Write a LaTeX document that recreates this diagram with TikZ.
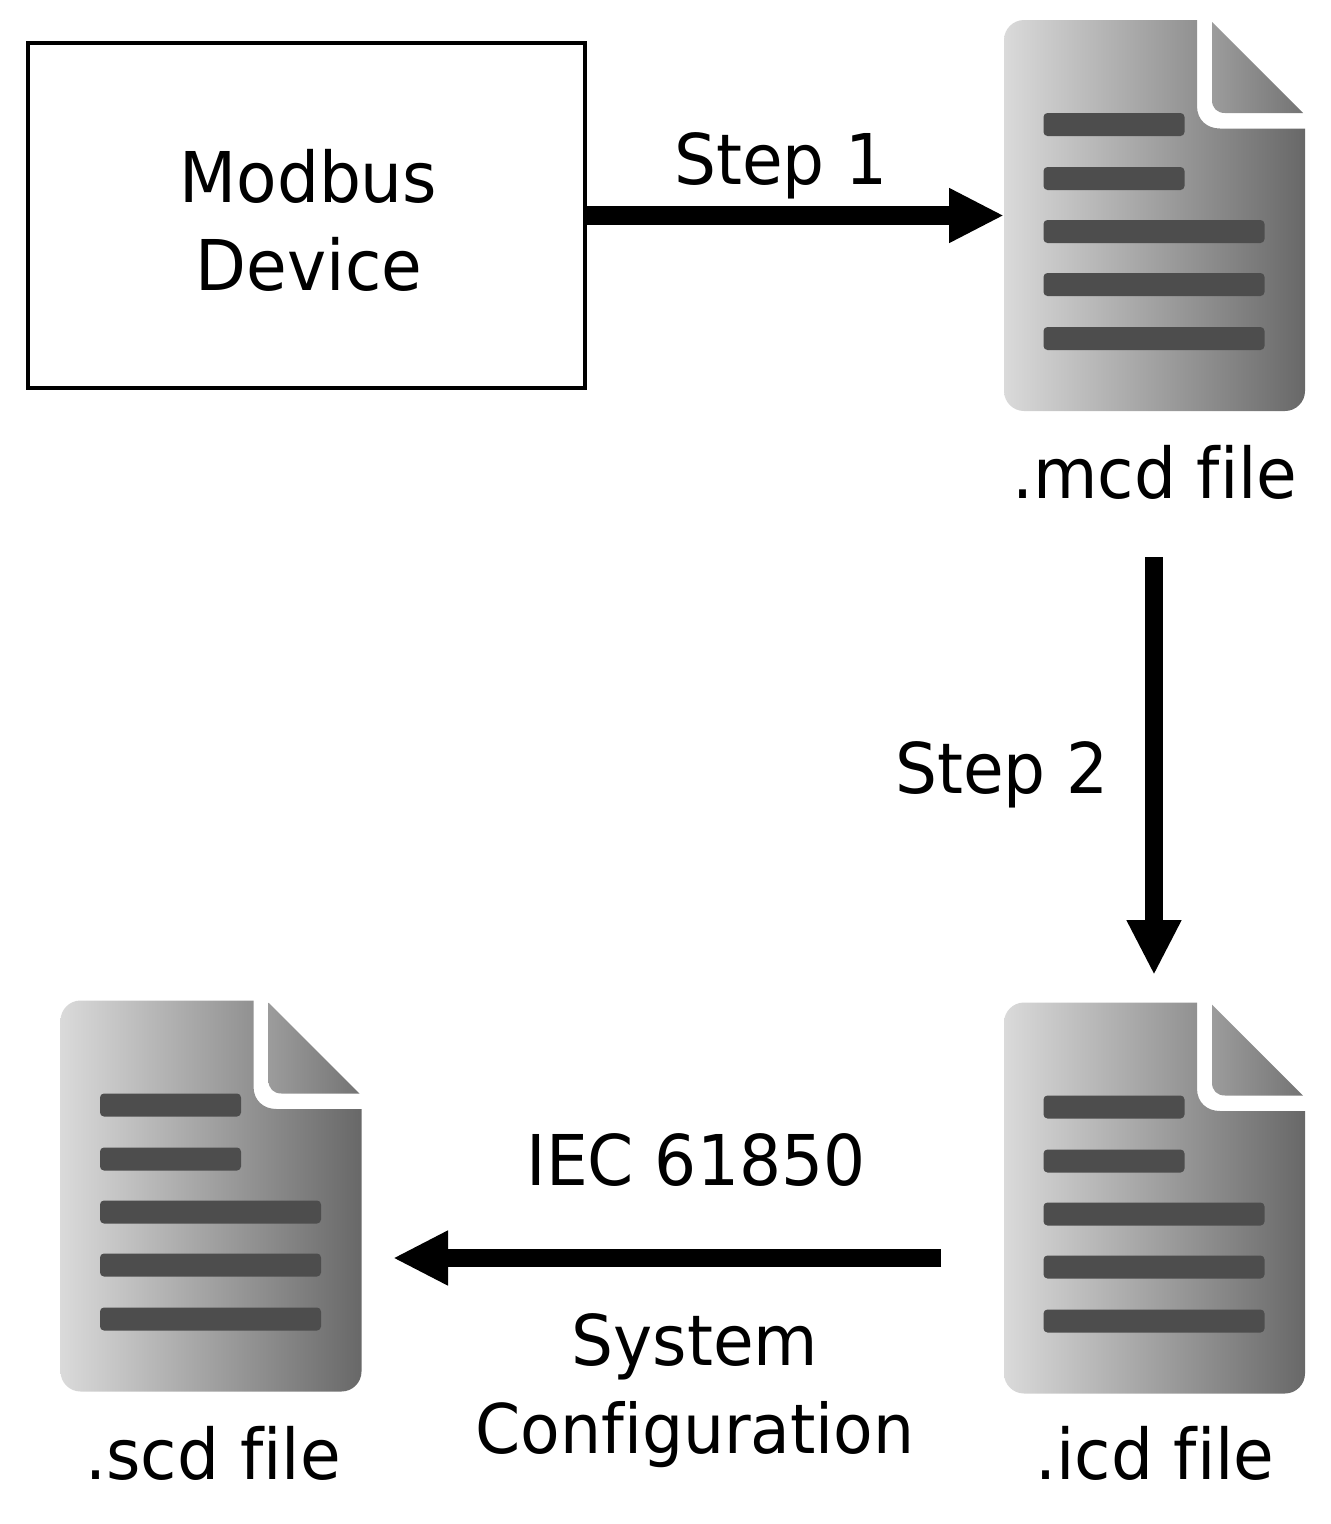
\documentclass[tikz,border=0pt]{standalone}
\usepackage{fontspec}
\setmainfont[FakeStretch=1.05,Ligatures=NoCommon]{DejaVu Sans Condensed}
\usetikzlibrary{arrows.meta}
\tikzset{
  x=1pt,y=-1pt,
  label text/.style={anchor=base,inner sep=0pt,font=\fontsize{70}{88}\selectfont,align=center,text=black},
  bigarrow/.style={line width=18.5pt,draw=black,-{Triangle[length=55pt,width=51pt]}},
  devicebox/.style={draw=black,line width=4.5pt,minimum width=557pt,minimum height=345pt,inner sep=0pt,font=\fontsize{70}{88}\selectfont,align=center},
  filearea/.style={minimum width=301pt,minimum height=391pt,inner sep=0pt,outer sep=0pt},
  textbar/.style={fill=barcol,rounded corners=4pt},
  pics/fileicon/.style={code={
    \shade[left color=bodyl,right color=bodyr]
      (20,0) -- (193,0) -- (193,86)
      .. controls (193,100) and (203,108.5) .. (216,108.5) -- (301,108.5) -- (301,371)
      .. controls (301,382) and (292,391) .. (281,391) -- (20,391)
      .. controls (9,391) and (0,382) .. (0,371) -- (0,20)
      .. controls (0,9) and (9,0) .. (20,0) -- cycle;
    \shade[left color=foldl,right color=foldr]
      (208,2) -- (299,93) -- (221,93) .. controls (213,93) and (208,88) .. (208,80) -- cycle;
    \fill[textbar] (39.5,93) rectangle (180.5,116);
    \fill[textbar] (39.5,147) rectangle (180.5,170);
    \fill[textbar] (39.5,200) rectangle (260.5,223);
    \fill[textbar] (39.5,253) rectangle (260.5,276);
    \fill[textbar] (39.5,307) rectangle (260.5,330);
  }}
}
\definecolor{bodyl}{HTML}{DADADA}
\definecolor{bodyr}{HTML}{686868}
\definecolor{foldl}{HTML}{9C9C9C}
\definecolor{foldr}{HTML}{747474}
\definecolor{barcol}{HTML}{4D4D4D}
\begin{document}
\begin{tikzpicture}
\useasboundingbox (0,0) rectangle (1331,1524);
\node[devicebox] (device) at (306.5,215.5) {\rule{0pt}{62pt}\hspace*{4pt}Modbus\\\hspace*{5pt}Device};
\node[filearea] (mcd) at (1154.5,215.5) {};
\node[filearea] (icd) at (1154.5,1198) {};
\node[filearea] (scd) at (211,1196) {};
\pic at (mcd.north west) {fileicon};
\pic at (icd.north west) {fileicon};
\pic at (scd.north west) {fileicon};
\node[label text] (mcdlabel) at (1155,498) {.mcd file};
\node[label text] (icdlabel) at (1155,1479) {.icd file};
\node[label text] (scdlabel) at (213,1479) {.scd file};
\node[label text] (step1) at (781,184) {Step 1};
\node[label text] (step2) at (1002,793) {Step 2};
\node[label text] (iec) at (696,1185) {IEC 61850};
\node[label text] (sys) at (695,1365) {System};
\node[label text, font=\fontsize{68.5}{88}\selectfont] (conf) at (695,1453) {Configuration};
\coordinate (a2s) at (1154,557);
\coordinate (a2e) at (1154,975);
\coordinate (a3s) at (941,1258);
\coordinate (a3e) at (393,1258);
\draw[bigarrow] (device.east) -- (mcd.west);
\draw[bigarrow] (a2s) -- (a2e);
\draw[bigarrow] (a3s) -- (a3e);
\end{tikzpicture}
\end{document}
